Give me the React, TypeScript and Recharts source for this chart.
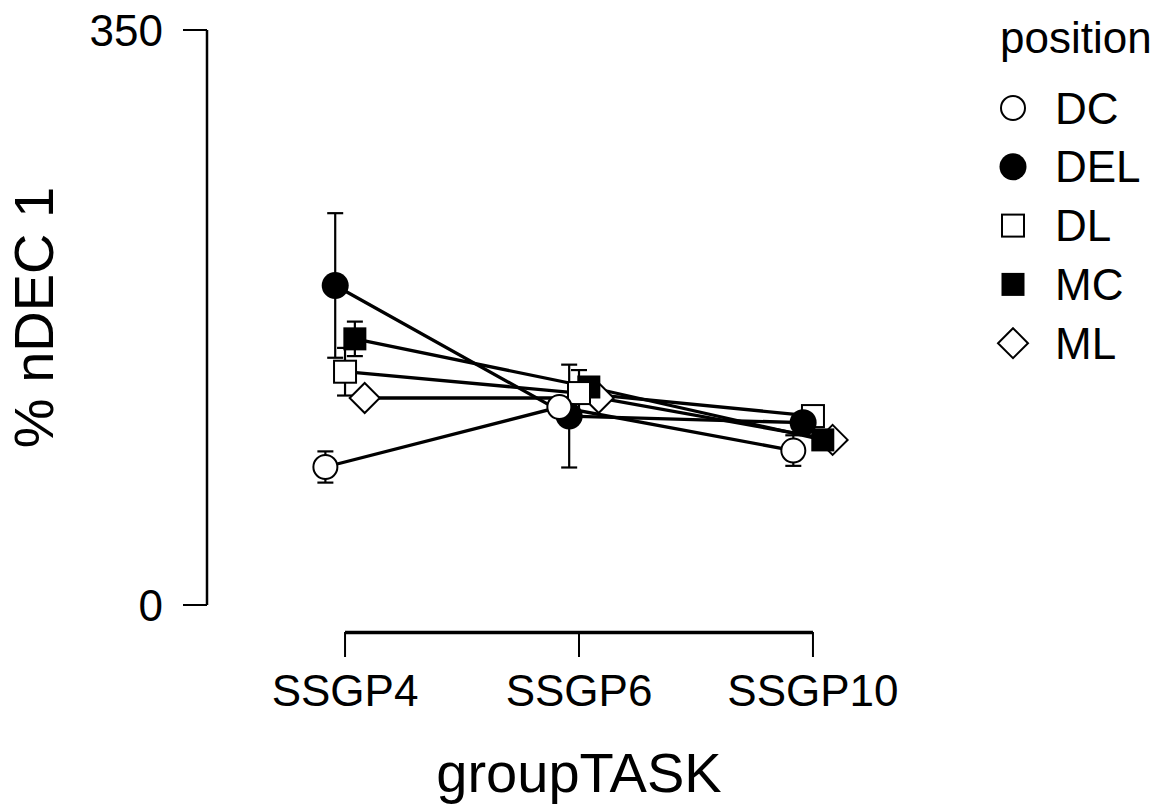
import React from "react";
import { LineChart, Line, XAxis, YAxis, ErrorBar, ReferenceLine, Legend } from "recharts";

const categories = ["SSGP4", "SSGP6", "SSGP10"];
const positions = ["DC", "DEL", "DL", "MC", "ML"];

// means and error half-widths per position, in category order
const dcMean = [84, 120.5, 94];
const dcErr = [9.5, 4, 9.3];
const delMean = [194.5, 115, 111];
const delErr = [44, 31.3, 4];
const dlMean = [142, 129, 115];
const dlErr = [14.5, 14, 5];
const mcMean = [162, 132.7, 100.5];
const mcErr = [10.5, 4, 4];
const mlMean = [126, 126, 100.5];
const mlErr = [3, 3, 3];

const yTicks = [0, 350];
const xTicks = [0, 1, 2];

const means = [dcMean, delMean, dlMean, mcMean, mlMean];
const errs = [dcErr, delErr, dlErr, mcErr, mlErr];
const shapes: Record<string, string> = {
  DC: "circleOpen",
  DEL: "circleFilled",
  DL: "squareOpen",
  MC: "squareFilled",
  ML: "diamondOpen",
};

const DODGE = 0.042;
const FONT = "'Liberation Sans', Arial, sans-serif";

const series = positions.map((p, i) => ({
  name: p,
  data: categories.map((c, j) => ({
    cat: c,
    x: j + (i - 2) * DODGE,
    y: means[i][j],
    err: errs[i][j],
  })),
}));

function Marker({ shape, cx, cy }: { shape: string; cx: number; cy: number }) {
  switch (shape) {
    case "circleOpen":
      return <circle cx={cx} cy={cy} r={12} fill="#fff" stroke="#000" strokeWidth={2} />;
    case "circleFilled":
      return <circle cx={cx} cy={cy} r={13.5} fill="#000" />;
    case "squareOpen":
      return <rect x={cx - 11} y={cy - 11} width={22} height={22} fill="#fff" stroke="#000" strokeWidth={2} />;
    case "squareFilled":
      return <rect x={cx - 11.5} y={cy - 11.5} width={23} height={23} fill="#000" />;
    default:
      return (
        <polygon
          points={`${cx},${cy - 15} ${cx + 15},${cy} ${cx},${cy + 15} ${cx - 15},${cy}`}
          fill="#fff"
          stroke="#000"
          strokeWidth={2}
        />
      );
  }
}

const XTick = (props: any) => {
  const { x, y, payload } = props;
  return (
    <g>
      <line x1={x} x2={x} y1={y + 27} y2={y + 52} stroke="#000" strokeWidth={2} />
      <text x={x} y={y + 101} textAnchor="middle" fontSize={44} fontFamily={FONT} fill="#000">
        {categories[payload.value]}
      </text>
    </g>
  );
};

const renderXLabel = (props: any) => {
  const vb = props.viewBox;
  return (
    <text x={vb.x + vb.width / 2} y={792} textAnchor="middle" fontSize={56} fontFamily={FONT} fill="#000">
      groupTASK
    </text>
  );
};

const renderYLabel = (props: any) => {
  const vb = props.viewBox;
  const cy = vb.y + vb.height / 2;
  return (
    <text
      x={33}
      y={cy}
      transform={`rotate(-90, 33, ${cy})`}
      textAnchor="middle"
      dominantBaseline="central"
      fontSize={56}
      fontFamily={FONT}
      fill="#000"
    >
      % nDEC 1
    </text>
  );
};

const renderLegend = (props: any) => {
  const names = (props.payload || []).map((e: any) => e.value);
  const items = positions.filter((p) => names.includes(p));
  return (
    <svg width={193} height={380}>
      <text x={32} y={53} fontSize={44} fontFamily={FONT} fill="#000">
        position
      </text>
      {items.map((p, i) => (
        <g key={p}>
          <Marker shape={shapes[p]} cx={45} cy={108 + i * 58.8} />
          <text
            x={87}
            y={108 + i * 58.8}
            dominantBaseline="central"
            fontSize={44}
            fontFamily={FONT}
            fill="#000"
          >
            {p}
          </text>
        </g>
      ))}
    </svg>
  );
};

export default function App() {
  // dots drawn last, DC on top
  const dotOrder = [...series].reverse();
  return (
    <div style={{ position: "absolute", left: 0, top: 0, background: "#fff" }}>
      <LineChart width={1161} height={807} margin={{ top: 30, right: 210, bottom: 0, left: 0 }}>
        <XAxis
          type="number"
          dataKey="x"
          domain={[-0.59, 2.59]}
          ticks={xTicks}
          interval={0}
          allowDataOverflow
          axisLine={false}
          tickLine={false}
          tickSize={0}
          tickMargin={0}
          height={202}
          tick={<XTick />}
          label={renderXLabel}
        />
        <YAxis
          type="number"
          domain={[0, 350]}
          ticks={yTicks}
          width={207}
          tickSize={24}
          tickMargin={20}
          axisLine={{ stroke: "#000", strokeWidth: 2.5 }}
          tickLine={{ stroke: "#000", strokeWidth: 2 }}
          tick={{ fontSize: 44, fill: "#000", fontFamily: FONT }}
          label={renderYLabel}
        />
        <ReferenceLine
          segment={[
            { x: 0, y: -16.8 },
            { x: 2, y: -16.8 },
          ]}
          ifOverflow="visible"
          stroke="#000"
          strokeWidth={3.5}
        />
        {series.map((s) => (
          <Line
            key={"line-" + s.name}
            data={s.data}
            dataKey="y"
            type="linear"
            stroke="#000"
            strokeWidth={3.3}
            dot={false}
            activeDot={false}
            legendType="none"
            isAnimationActive={false}
          >
            <ErrorBar dataKey="err" direction="y" width={8} stroke="#000" strokeWidth={2.2} isAnimationActive={false} />
          </Line>
        ))}
        {dotOrder.map((s) => (
          <Line
            key={"dots-" + s.name}
            name={s.name}
            data={s.data}
            dataKey="y"
            stroke="none"
            activeDot={false}
            isAnimationActive={false}
            dot={(p: any) => <Marker key={s.name + p.index} shape={shapes[s.name]} cx={p.cx} cy={p.cy} />}
          />
        ))}
        <Legend
          layout="horizontal"
          verticalAlign="middle"
          align="center"
          content={renderLegend}
          wrapperStyle={{ left: 968, top: 0, width: 193, height: 380 }}
        />
      </LineChart>
    </div>
  );
}
